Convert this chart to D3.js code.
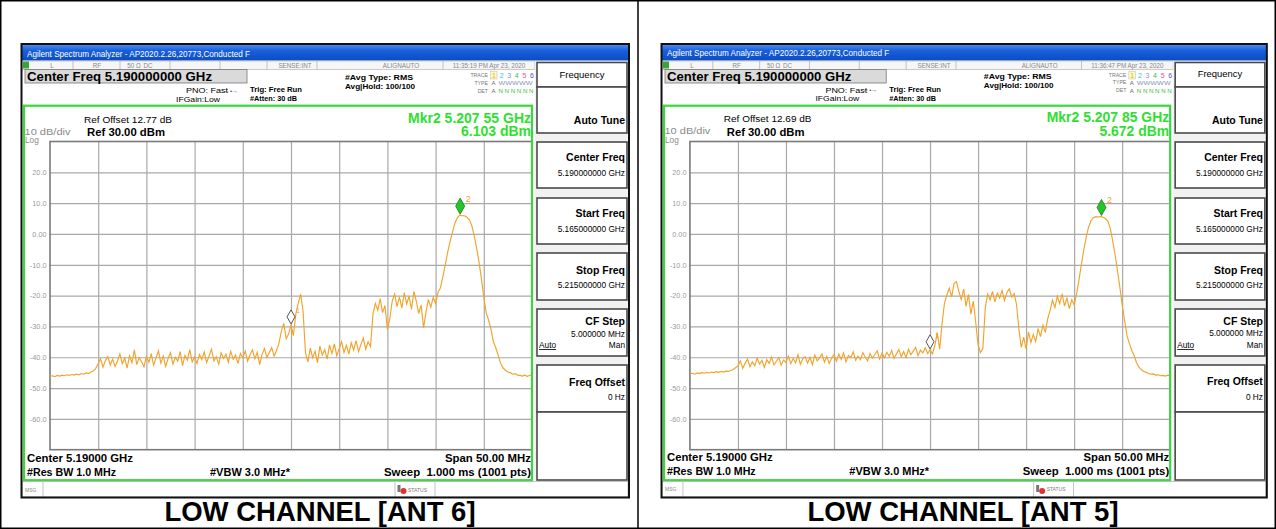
<!DOCTYPE html>
<html><head><meta charset="utf-8">
<script src="https://cdn.jsdelivr.net/npm/d3@7"></script>
<style>body{margin:0;background:#fff}svg{display:block}text{font-family:"Liberation Sans",Arial,sans-serif}</style>
</head><body><svg id="c" width="1276" height="529"></svg>
<script>
const freqStart = 5.165, freqStop = 5.215;
const yTickValues = [20, 10, 0, -10, -20, -30, -40, -50, -60];
const yTickLabels = ["20.0","10.0","0.00","-10.0","-20.0","-30.0","-40.0","-50.0","-60.0"];
const captions = ["LOW CHANNEL [ANT 6]", "LOW CHANNEL [ANT 5]"];
const refOffsets = ["Ref Offset 12.77 dB", "Ref Offset 12.69 dB"];
const timestamps = ["11:35:19 PM Apr 23, 2020", "11:36:47 PM Apr 23, 2020"];
const mkr2Freqs = [5.20755, 5.20785];
const mkr2Labels = ["Mkr2 5.207 55 GHz", "Mkr2 5.207 85 GHz"];
const mkr2Values = ["6.103 dBm", "5.672 dBm"];
const mkr2Levels = [6.103, 5.672];
const mkr1Freq = 5.19;
const menuTitles = ["Center Freq", "Start Freq", "Stop Freq"];
const menuValues = ["5.190000000 GHz", "5.165000000 GHz", "5.215000000 GHz"];
const traceColors = ["#e6b800","#33bbdd","#8888ee","#44bb44","#ee5577","#6644dd"];

const ant6Trace = [
-46.2,-46.0,-46.3,-45.9,-46.1,-45.8,-46.0,-45.7,-45.9,-45.6,-45.8,-45.5,-45.7,-45.3,-45.5,-45.1,-45.3,-44.8,-44.5,-43.6,
-42.0,-40.5,-43.2,-41.0,-39.8,-42.5,-40.6,-43.0,-41.2,-38.9,-42.1,-40.3,-43.5,-39.5,-41.8,-37.6,-42.4,-40.1,-41.5,-43.1,-39.7,
-41.6,-38.8,-42.6,-40.2,-37.9,-41.9,-39.6,-43.0,-40.4,-38.5,-42.2,-40.0,-41.3,-38.2,-42.7,-39.4,-40.9,-37.5,-41.5,-39.9,
-42.0,-39.1,-40.8,-38.3,-41.7,-39.6,-37.4,-41.2,-39.8,-42.3,-38.6,-40.4,-39.0,-41.6,-38.1,-40.7,-39.3,-42.1,-38.8,-40.2,
-38.0,-41.3,-39.2,-37.6,-40.5,-38.4,-42.4,-39.0,-37.2,-40.1,-38.5,-36.9,-39.6,-37.8,-35.5,
-31.5,-29.0,-34.0,-32.5,
-29.5,
-33.0,-26.0,-22.5,-19.5,
-25.0,-38.5,-41.5,-37.0,-40.2,-38.1,-41.8,-36.4,-39.3,-37.5,-40.6,-36.0,-38.8,-35.7,-39.5,-37.2,-34.9,-38.4,-36.1,-39.0,-35.3,-37.7,-34.6,-38.2,-35.9,-33.8,-37.4,-35.0,-36.5,
-26.0,-22.5,-24.8,-21.0,-25.5,-23.2,-31.0,-27.5,-21.8,-19.5,-23.6,-20.4,-24.1,-19.0,-22.7,-20.2,-24.5,-18.6,-21.9,-25.8,-23.0,-30.5,-25.4,-21.2,-23.8,-20.6,-22.5,
-19.0,-17.5,-14.0,-10.0,-6.0,-2.5,0.5,3.5,5.2,6.1,5.9,5.9,5.4,4.6,2.8,-0.5,-4.5,-9.0,-14.5,-20.5,
-25.5,-28.0,-31.0,-35.0,-37.0,-39.5,-42.0,-43.5,-44.2,-44.8,-45.0,-45.5,-45.3,-45.8,-45.9,-46.1,-45.8,-46.2,-45.9,-45.7
];
const ant5Trace = [
-45.4,-45.2,-45.5,-45.1,-45.3,-45.0,-45.2,-44.9,-45.1,-44.8,-45.0,-44.7,-44.9,-44.6,-44.8,-44.5,-44.6,-44.3,-44.0,-43.4,
-42.8,-41.2,-43.6,-41.9,-40.6,-43.1,-41.5,-42.7,-40.3,-42.2,-41.0,-43.3,-40.8,-42.0,-39.9,-42.5,-41.3,-40.1,-42.6,-40.9,-41.7,
-39.6,-42.1,-40.4,-41.8,-39.2,-42.3,-40.5,-39.8,-41.9,-40.0,-42.4,-39.3,-41.2,-40.2,-38.9,-41.6,-39.7,-42.0,-40.3,-39.1,
-41.3,-39.0,-40.7,-38.6,-41.5,-39.4,-40.1,-38.2,-41.0,-39.6,-40.8,-38.5,-39.9,-41.2,-38.8,-40.3,-39.1,-37.9,-40.6,-38.7,
-40.2,-38.4,-39.7,-37.8,-40.4,-38.9,-37.5,-39.8,-38.2,-40.1,-37.4,-39.2,-38.0,-36.8,-39.5,-37.7,-38.6,-36.9,-38.8,-37.6,
-38.9,-36.2,-32.0,-37.5,
-29.0,-22.5,-19.8,-17.6,-20.4,-16.0,-15.5,-18.7,-21.3,-17.9,-23.5,-19.6,-26.0,-21.8,-28.5,-36.0,-38.5,-37.2,
-24.0,-19.5,-21.4,-18.6,-22.0,-19.2,-20.8,-18.3,-21.6,-19.0,-17.8,-20.5,-19.4,-22.8,
-31.0,-36.8,-33.5,-37.4,-31.8,-35.2,-32.6,-34.9,-30.7,-33.3,-29.6,-31.9,
-27.5,-24.8,-21.5,-23.9,-20.2,-22.6,-19.4,-23.4,-20.8,-24.2,-21.3,-23.0,-19.5,
-15.0,-10.0,-5.2,-1.2,2.2,4.3,5.3,5.6,5.5,5.7,5.4,5.0,4.2,2.0,-2.0,-6.5,-11.7,-17.0,-23.0,
-28.0,-33.0,-35.5,-37.8,-39.5,-41.8,-43.2,-44.0,-44.6,-44.9,-45.3,-45.5,-45.4,-45.8,-45.7,-46.0,-45.9,-46.1,-45.8,-45.9
];
const traces = [ant6Trace, ant5Trace];

const svg = d3.select("#c");
const defs = svg.append("defs");
const grad = defs.append("linearGradient").attr("id","tb").attr("x1",0).attr("y1",0).attr("x2",0).attr("y2",1);
grad.append("stop").attr("offset","0").attr("stop-color","#4a8cf0");
grad.append("stop").attr("offset","0.35").attr("stop-color","#1a60dc");
grad.append("stop").attr("offset","1").attr("stop-color","#0a4cc2");
defs.append("clipPath").attr("id","plotclip").append("rect").attr("x",50).attr("y",141.5).attr("width",482).attr("height",308.2);

// outer table
svg.append("rect").attr("x",0.75).attr("y",0.75).attr("width",1274.5).attr("height",527.5).attr("fill","none").attr("stroke","#000").attr("stroke-width",1.5);
svg.append("line").attr("x1",638).attr("x2",638).attr("y1",0).attr("y2",529).attr("stroke","#000").attr("stroke-width",1.5);

function txt(g, x, y, s, size, opts = {}) {
  const t = g.append("text").attr("x", x).attr("y", y).text(s)
    .attr("font-size", size).attr("fill", opts.fill || "#000")
    .attr("font-weight", opts.bold ? "bold" : "normal")
    .attr("text-anchor", opts.anchor || "start");
  if (opts.len) t.attr("textLength", opts.len).attr("lengthAdjust", "spacingAndGlyphs");
  if (opts.pre) t.style("white-space", "pre");
  return t;
}

function drawPanel(k, transform) {
  const trace = traces[k];
  const g = svg.append("g").attr("transform", transform);
  const x = d3.scaleLinear().domain([freqStart, freqStop]).range([50, 532]);
  const y = d3.scaleLinear().domain([-70, 30]).range([449.7, 141.5]);
  const step = (freqStop - freqStart) / (trace.length - 1);

  g.append("rect").attr("x",22).attr("y",44).attr("width",607).attr("height",453).attr("fill","#fff");
  g.append("rect").attr("x",22).attr("y",45).attr("width",607).attr("height",15.5).attr("fill","url(#tb)");
  txt(g, 27, 56.5, "Agilent Spectrum Analyzer - AP2020.2.26,20773,Conducted F", 8.5, {fill:"#fff", len:223});
  g.append("rect").attr("x",22).attr("y",61).attr("width",513).attr("height",8.5).attr("fill","#f6f6f6").attr("stroke","#aaa").attr("stroke-width",0.6);
  g.append("rect").attr("x",23).attr("y",61.5).attr("width",6).attr("height",7).attr("fill","#3aa63a");
  [73, 120, 170, 220, 267, 317, 443].forEach(xx => g.append("line").attr("x1",xx).attr("x2",xx).attr("y1",61).attr("y2",69.5).attr("stroke","#aaa").attr("stroke-width",0.7));
  const st = [[52,"L"],[97,"RF"],[134,"50 Ω"],[148,"DC"],[295,"SENSE:INT"],[401,"ALIGNAUTO"],[489,timestamps[k]]];
  st.forEach(([xx,s]) => txt(g, xx, 67.8, s, 6.3, {fill:"#888", anchor:"middle"}));
  g.append("rect").attr("x",25).attr("y",69.5).attr("width",222).attr("height",13.5).attr("fill","#dadada").attr("stroke","#777").attr("stroke-width",0.8);
  txt(g, 27, 81.3, "Center Freq 5.190000000 GHz", 12.5, {bold:true, len:185});
  txt(g, 186, 93, "PNO: Fast", 7.3, {len:42});
  txt(g, 224, 92.5, "←•→", 6, {fill:"#444"});
  txt(g, 176, 101.5, "IFGain:Low", 7.3, {len:44});
  txt(g, 250, 92, "Trig: Free Run", 8, {bold:true, len:52});
  txt(g, 250, 101, "#Atten: 30 dB", 7.3, {bold:true, len:47});
  txt(g, 345, 79.5, "#Avg Type: RMS", 8, {bold:true, len:68});
  txt(g, 345, 88.5, "Avg|Hold: 100/100", 8, {bold:true, len:70});
  txt(g, 488, 77, "TRACE", 5.2, {fill:"#777", anchor:"end"});
  txt(g, 488, 84.5, "TYPE", 5.2, {fill:"#777", anchor:"end"});
  txt(g, 488, 92.5, "DET", 5.2, {fill:"#777", anchor:"end"});
  g.append("rect").attr("x",490.5).attr("y",71.5).attr("width",6.5).attr("height",7.5).attr("fill","#fff7c0").attr("stroke","#bbb").attr("stroke-width",0.5);
  traceColors.forEach((c, i) => txt(g, 494 + i * 7.6, 77.8, String(i + 1), 7, {fill:c, anchor:"middle"}));
  txt(g, 491.5, 85, "A", 6, {fill:"#666"});
  txt(g, 498.5, 84.8, "WWWWW", 4.6, {fill:"#8899bb", len:34});
  txt(g, 491.5, 93, "A", 6, {fill:"#666"});
  txt(g, 498.5, 93, "N N N N N N", 6, {fill:"#33bb33", len:35});

  const yAx = g.append("g").attr("transform","translate(50,0)")
    .call(d3.axisLeft(y).tickValues(yTickValues).tickFormat((d,i)=>yTickLabels[i]).tickSize(-482).tickPadding(3.5));
  yAx.select(".domain").remove();
  yAx.selectAll(".tick line").attr("stroke","#a9a9a9").attr("stroke-width",1.2);
  yAx.selectAll(".tick text").attr("fill","#9a9a9a").attr("font-size",7.3).attr("font-family","Liberation Sans, Arial, sans-serif");
  const xAx = g.append("g").attr("transform","translate(0,449.7)")
    .call(d3.axisBottom(x).tickValues(d3.range(1,10).map(j => freqStart + j*(freqStop-freqStart)/10)).tickSize(-308.2).tickFormat(""));
  xAx.select(".domain").remove();
  xAx.selectAll(".tick line").attr("stroke","#a9a9a9").attr("stroke-width",1.2);
  g.append("rect").attr("x",50).attr("y",141.5).attr("width",482).attr("height",308.2).attr("fill","none").attr("stroke","#7a7a7a").attr("stroke-width",1.6);

  const line = d3.line().x((d,i)=>x(freqStart + i*step)).y(d=>y(d));
  g.append("path").datum(trace).attr("d", line).attr("fill","none").attr("stroke","#f2a32a").attr("stroke-width",1.15).attr("clip-path","url(#plotclip)");

  const i1 = Math.round((mkr1Freq - freqStart) / step);
  const m1x = x(mkr1Freq), m1y = y(trace[i1]);
  g.append("path").attr("d", `M${m1x},${m1y-1} l-4,-7 l4,-7 l4,7 z`).attr("fill","#fff").attr("stroke","#555").attr("stroke-width",1);
  txt(g, m1x + 5, m1y - 12, "1", 7, {fill:"#f2a32a"});
  const m2x = x(mkr2Freqs[k]), m2y = y(mkr2Levels[k]);
  g.append("path").attr("d", `M${m2x},${m2y-1} l-4.5,-8 l4.5,-8 l4.5,8 z`).attr("fill","#22c82a").attr("stroke","#137a18").attr("stroke-width",0.8);
  txt(g, m2x + 5.5, m2y - 13, "2", 9, {fill:"#f2a32a"});

  g.append("rect").attr("x",24).attr("y",105.7).attr("width",508).attr("height",374.5).attr("fill","none").attr("stroke","#3ad83a").attr("stroke-width",2.2);

  txt(g, 84, 122.5, refOffsets[k], 9.5, {len:88});
  txt(g, 24.5, 134.5, "10 dB/div", 8.3, {fill:"#8a8a8a", len:46});
  txt(g, 87, 136, "Ref 30.00 dBm", 11.5, {bold:true, len:78});
  txt(g, 25, 142.8, "Log", 8.3, {fill:"#8a8a8a"});
  txt(g, 531, 122.5, mkr2Labels[k], 14, {bold:true, fill:"#2fe02f", anchor:"end"});
  txt(g, 531, 136, mkr2Values[k], 14, {bold:true, fill:"#2fe02f", anchor:"end"});
  txt(g, 27, 461.5, "Center 5.19000 GHz", 11.3, {bold:true, len:106});
  txt(g, 27, 475.5, "#Res BW 1.0 MHz", 11.3, {bold:true, len:89});
  txt(g, 210, 475.5, "#VBW 3.0 MHz*", 11.3, {bold:true, len:80});
  txt(g, 531, 461.5, "Span 50.00 MHz", 11.3, {bold:true, anchor:"end", len:86});
  txt(g, 531, 475.5, "Sweep  1.000 ms (1001 pts)", 11.3, {bold:true, anchor:"end", pre:true, len:147});

  g.append("rect").attr("x",22).attr("y",481.5).attr("width",606).attr("height",15.5).attr("fill","#fff").attr("stroke","#999").attr("stroke-width",0.6);
  g.append("line").attr("x1",43).attr("x2",43).attr("y1",482).attr("y2",497).attr("stroke","#aaa").attr("stroke-width",0.7);
  g.append("line").attr("x1",395).attr("x2",395).attr("y1",482).attr("y2",497).attr("stroke","#aaa").attr("stroke-width",0.7);
  g.append("line").attr("x1",435).attr("x2",435).attr("y1",482).attr("y2",497).attr("stroke","#aaa").attr("stroke-width",0.7);
  txt(g, 25, 491.5, "MSG", 5, {fill:"#888"});
  g.append("rect").attr("x",397.5).attr("y",485).attr("width",3).attr("height",7).attr("fill","#777");
  g.append("circle").attr("cx",403.5).attr("cy",491).attr("r",3).attr("fill","#e23030");
  txt(g, 408, 491.5, "STATUS", 5, {fill:"#777"});

  g.append("rect").attr("x",535).attr("y",61).attr("width",93).attr("height",420).attr("fill","#f1f1f1");
  const box = (y0, y1) => g.append("rect").attr("x",537).attr("y",y0).attr("width",90).attr("height",y1-y0).attr("fill","#fff").attr("stroke","#4a4a4a").attr("stroke-width",1.6);
  box(62.5, 87); box(87, 133);
  txt(g, 582, 77.5, "Frequency", 9.5, {anchor:"middle"});
  txt(g, 625, 124, "Auto Tune", 10.5, {bold:true, anchor:"end"});
  [[142,188,161,176],[198,244,217,232],[253,300,274,288]].forEach(([a,b,t1,t2], j) => {
    box(a, b);
    txt(g, 625, t1, menuTitles[j], 10.5, {bold:true, anchor:"end"});
    txt(g, 625, t2, menuValues[j], 8.3, {anchor:"end"});
  });
  box(309, 356);
  txt(g, 625, 325, "CF Step", 10.5, {bold:true, anchor:"end"});
  txt(g, 625, 336.5, "5.000000 MHz", 8.3, {anchor:"end"});
  txt(g, 539, 348, "Auto", 8.3, {}).attr("text-decoration","underline");
  txt(g, 625, 348, "Man", 8.3, {anchor:"end"});
  box(365, 412);
  txt(g, 625, 385.5, "Freq Offset", 10.5, {bold:true, anchor:"end"});
  txt(g, 625, 400, "0 Hz", 8.3, {anchor:"end"});
  box(412, 480);

  g.append("rect").attr("x",21.5).attr("y",44).attr("width",607.5).attr("height",453.5).attr("fill","none").attr("stroke","#111").attr("stroke-width",2);
}

drawPanel(0, "translate(0,0)");
drawPanel(1, "translate(640.1,0) scale(0.9964,1)");

txt(svg, 320, 520.5, captions[0], 27.5, {bold:true, anchor:"middle"});
txt(svg, 963, 520.5, captions[1], 27.5, {bold:true, anchor:"middle"});
</script></body></html>
